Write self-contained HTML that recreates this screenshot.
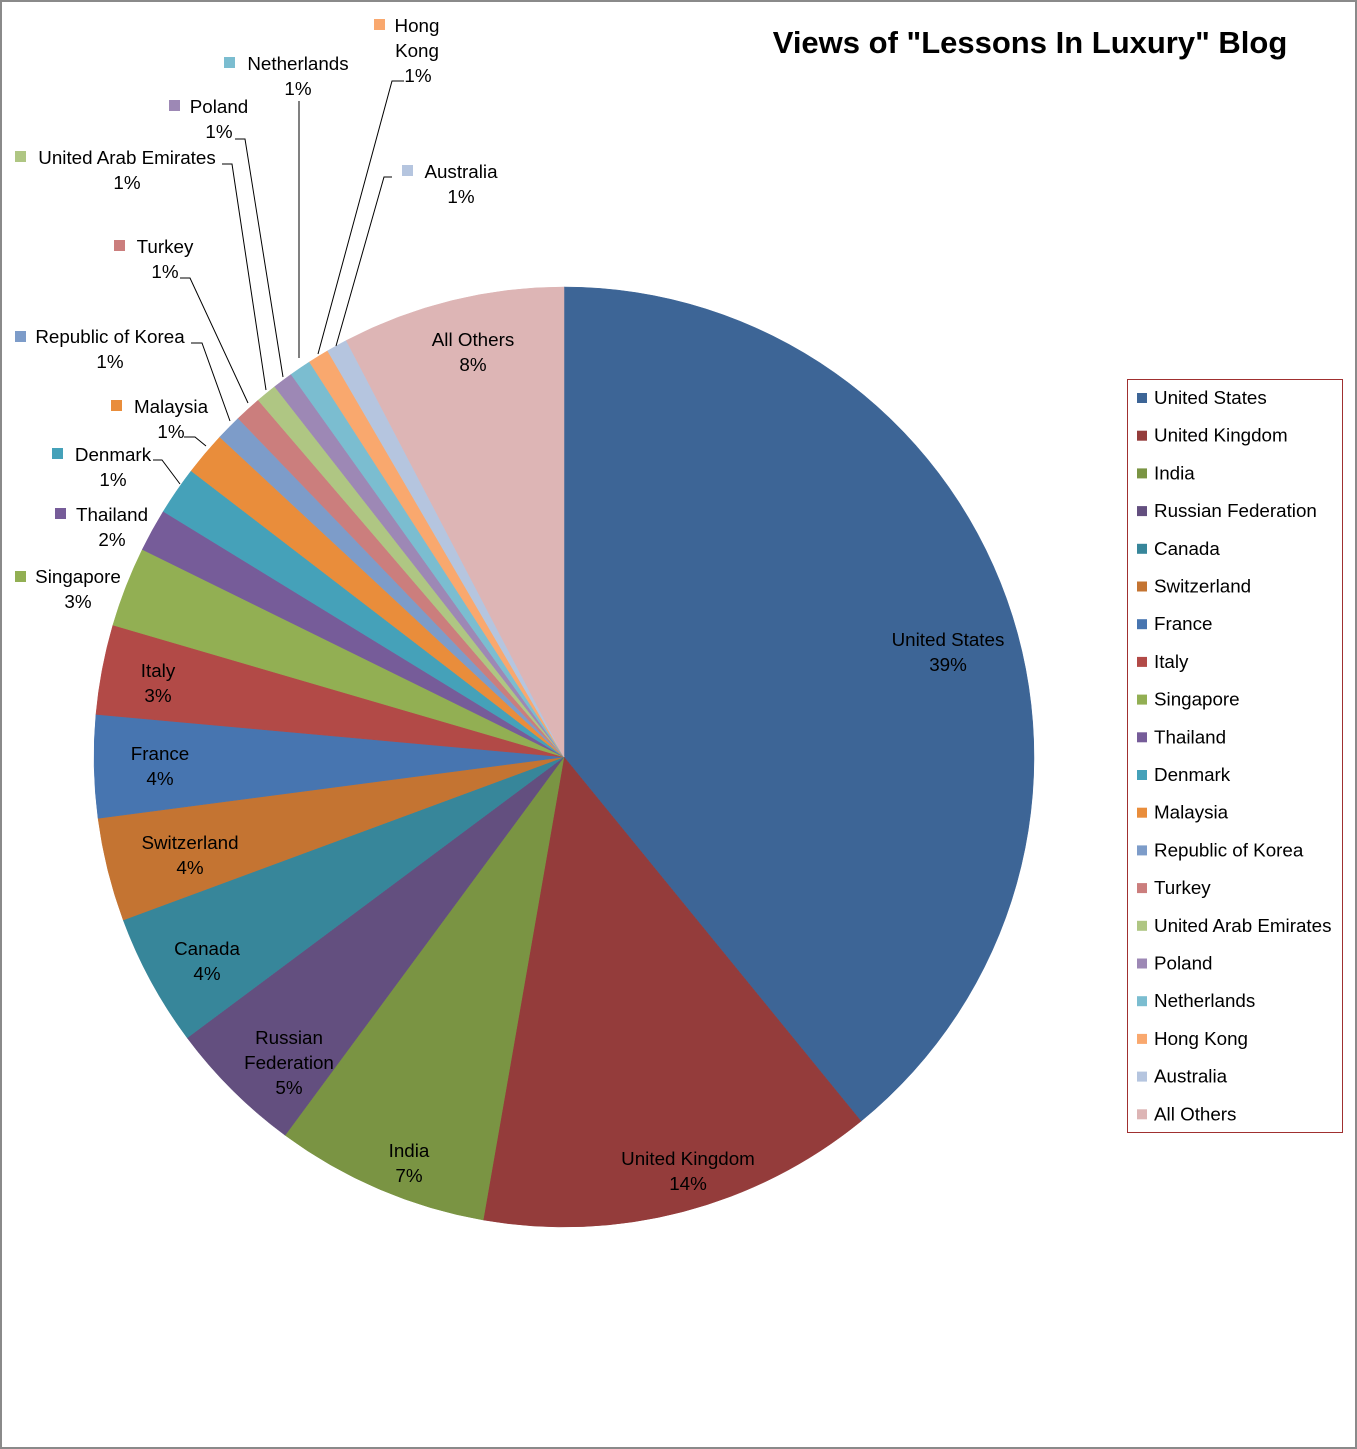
<!DOCTYPE html>
<html><head><meta charset="utf-8"><style>
html,body{margin:0;padding:0;background:#fff}
svg{display:block}
text{font-family:"Liberation Sans",sans-serif;font-size:18.8px;fill:#000}
</style></head><body>
<svg id="s" width="1357" height="1449" viewBox="0 0 1357 1449" xmlns="http://www.w3.org/2000/svg">
<rect x="1" y="1" width="1355" height="1447" fill="#fff" stroke="#8a8a8a" stroke-width="2"/>
<g id="pie"></g>
<text x="1030" y="53" text-anchor="middle" style="font-size:31px;font-weight:bold">Views of "Lessons In Luxury" Blog</text>
<g fill="none" stroke="#000" stroke-width="1">
<polyline points="336,346 384,177 392,177"/>
<polyline points="318,354 392,81 404,81"/>
<polyline points="299,358 299,101"/>
<polyline points="283,377 245,139 235,139"/>
<polyline points="266,390 232,164 222,164"/>
<polyline points="248,403 190,278 180,278"/>
<polyline points="230,421 202,343 191,343"/>
<polyline points="206,446 195,437 184,437"/>
<polyline points="180,484 162,460 153,460"/>
</g>
<g text-anchor="middle">
<text x="948" y="646">United States</text><text x="948" y="671">39%</text>
<text x="688" y="1165">United Kingdom</text><text x="688" y="1190">14%</text>
<text x="409" y="1157">India</text><text x="409" y="1182">7%</text>
<text x="289" y="1044">Russian</text><text x="289" y="1069">Federation</text><text x="289" y="1094">5%</text>
<text x="207" y="955">Canada</text><text x="207" y="980">4%</text>
<text x="190" y="849">Switzerland</text><text x="190" y="874">4%</text>
<text x="160" y="760">France</text><text x="160" y="785">4%</text>
<text x="158" y="677">Italy</text><text x="158" y="702">3%</text>
<text x="473" y="346">All Others</text><text x="473" y="371">8%</text>
<text x="78" y="583">Singapore</text><text x="78" y="608">3%</text>
<text x="112" y="521">Thailand</text><text x="112" y="546">2%</text>
<text x="113" y="461">Denmark</text><text x="113" y="486">1%</text>
<text x="171" y="413">Malaysia</text><text x="171" y="438">1%</text>
<text x="110" y="343">Republic of Korea</text><text x="110" y="368">1%</text>
<text x="165" y="253">Turkey</text><text x="165" y="278">1%</text>
<text x="127" y="164">United Arab Emirates</text><text x="127" y="189">1%</text>
<text x="219" y="113">Poland</text><text x="219" y="138">1%</text>
<text x="298" y="70">Netherlands</text><text x="298" y="95">1%</text>
<text x="417" y="32">Hong</text><text x="417" y="57">Kong</text><text x="418" y="82">1%</text>
<text x="461" y="178">Australia</text><text x="461" y="203">1%</text>
</g>
<g>
<rect x="15" y="571" width="11" height="11" fill="#92AF53"/>
<rect x="55" y="508" width="11" height="11" fill="#765C99"/>
<rect x="52" y="448" width="11" height="11" fill="#45A1B9"/>
<rect x="111" y="400" width="11" height="11" fill="#E98D3B"/>
<rect x="15" y="331" width="11" height="11" fill="#7D9CC9"/>
<rect x="114" y="240" width="11" height="11" fill="#CB7E7D"/>
<rect x="15" y="151" width="11" height="11" fill="#AFC683"/>
<rect x="169" y="100" width="11" height="11" fill="#9D88B5"/>
<rect x="224" y="57" width="11" height="11" fill="#7BBDD0"/>
<rect x="374" y="19" width="11" height="11" fill="#F9A86E"/>
<rect x="402" y="165" width="11" height="11" fill="#B5C5DF"/>
</g>
<rect x="1127.5" y="379.5" width="215" height="753" fill="#fff" stroke="#a03030" stroke-width="1"/>
<g id="leg"></g>
</svg>
<script>
var d=[["United States",0,140.8,"#3D6596"],["United Kingdom",140.8,189.9,"#943C3B"],["India",189.9,216.4,"#7A9443"],["Russian Federation",216.4,233.3,"#634F7F"],["Canada",233.3,249.7,"#37869A"],["Switzerland",249.7,262.5,"#C47432"],["France",262.5,275.2,"#4775B0"],["Italy",275.2,286.3,"#B24A47"],["Singapore",286.3,296.2,"#92AF53"],["Thailand",296.2,301.5,"#765C99"],["Denmark",301.5,307.5,"#45A1B9"],["Malaysia",307.5,312.9,"#E98D3B"],["Republic of Korea",312.9,316.1,"#7D9CC9"],["Turkey",316.1,319.4,"#CB7E7D"],["United Arab Emirates",319.4,322,"#AFC683"],["Poland",322,324.5,"#9D88B5"],["Netherlands",324.5,327.2,"#7BBDD0"],["Hong Kong",327.2,329.8,"#F9A86E"],["Australia",329.8,332.4,"#B5C5DF"],["All Others",332.4,360,"#DDB5B5"]];
var cx=564,cy=757,r=470,ns="http://www.w3.org/2000/svg",pie=document.getElementById("pie"),leg=document.getElementById("leg");
function pt(a){a=a*Math.PI/180;return (cx+r*Math.sin(a)).toFixed(2)+","+(cy-r*Math.cos(a)).toFixed(2);}
d.forEach(function(s,i){
 var p=document.createElementNS(ns,"path");
 p.setAttribute("d","M"+cx+","+cy+" L"+pt(s[1])+" A"+r+","+r+" 0 "+((s[2]-s[1])>180?1:0)+" 1 "+pt(s[2])+" Z");
 p.setAttribute("fill",s[3]);p.setAttribute("stroke",s[3]);p.setAttribute("stroke-width","0.5");
 pie.appendChild(p);
 var y=398+i*37.7;
 var q=document.createElementNS(ns,"rect");
 q.setAttribute("x",1137);q.setAttribute("y",y-5);q.setAttribute("width",10);q.setAttribute("height",10);q.setAttribute("fill",s[3]);leg.appendChild(q);
 var t=document.createElementNS(ns,"text");t.setAttribute("x",1154);t.setAttribute("y",y+6);t.textContent=s[0];leg.appendChild(t);
});
</script>
</body></html>
